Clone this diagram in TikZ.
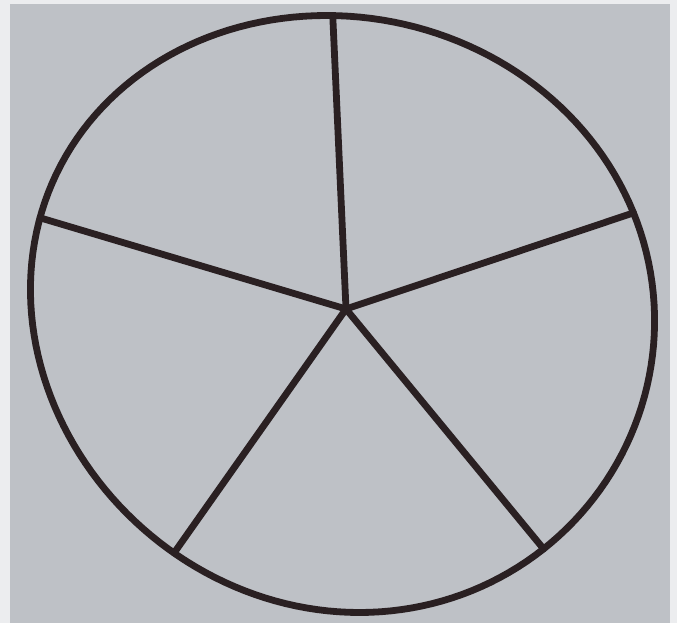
\documentclass[tikz,border=0pt]{standalone}
\begin{document}
\begin{tikzpicture}[x=1pt,y=-1pt,
  ink/.style={draw=inkcol,line width=6.8pt,line cap=round,line join=round},
  declare function={
    ex(\t)=343+311.5*cos(\t)*(1-0.03*sin(\t))+0.055*298.5*sin(\t);
    ey(\t)=314+298.5*sin(\t);}]
\definecolor{inkcol}{RGB}{42,32,34}
\definecolor{paper}{RGB}{190,193,198}
\definecolor{margin}{RGB}{236,237,239}
\useasboundingbox (0,0) rectangle (677,623);
\fill[margin] (0,0) rectangle (677,623);
\fill[paper] (10,4) rectangle (670,623);
\coordinate (c) at (346,309);
\coordinate (t) at ({ex(-88.9)},{ey(-88.9)});
\coordinate (r) at ({ex(-19.8)},{ey(-19.8)});
\coordinate (br) at ({ex(51.9)},{ey(51.9)});
\coordinate (bl) at ({ex(126.8)},{ey(126.8)});
\coordinate (l) at ({ex(198.8)},{ey(198.8)});
\draw[ink] plot[variable=\t, domain=0:358, samples=180] ({ex(\t)},{ey(\t)}) -- cycle;
\draw[ink] (c) -- (t);
\draw[ink] (c) -- (r);
\draw[ink] (c) -- (br);
\draw[ink] (c) -- (bl);
\draw[ink] (c) -- (l);
\end{tikzpicture}
\end{document}
